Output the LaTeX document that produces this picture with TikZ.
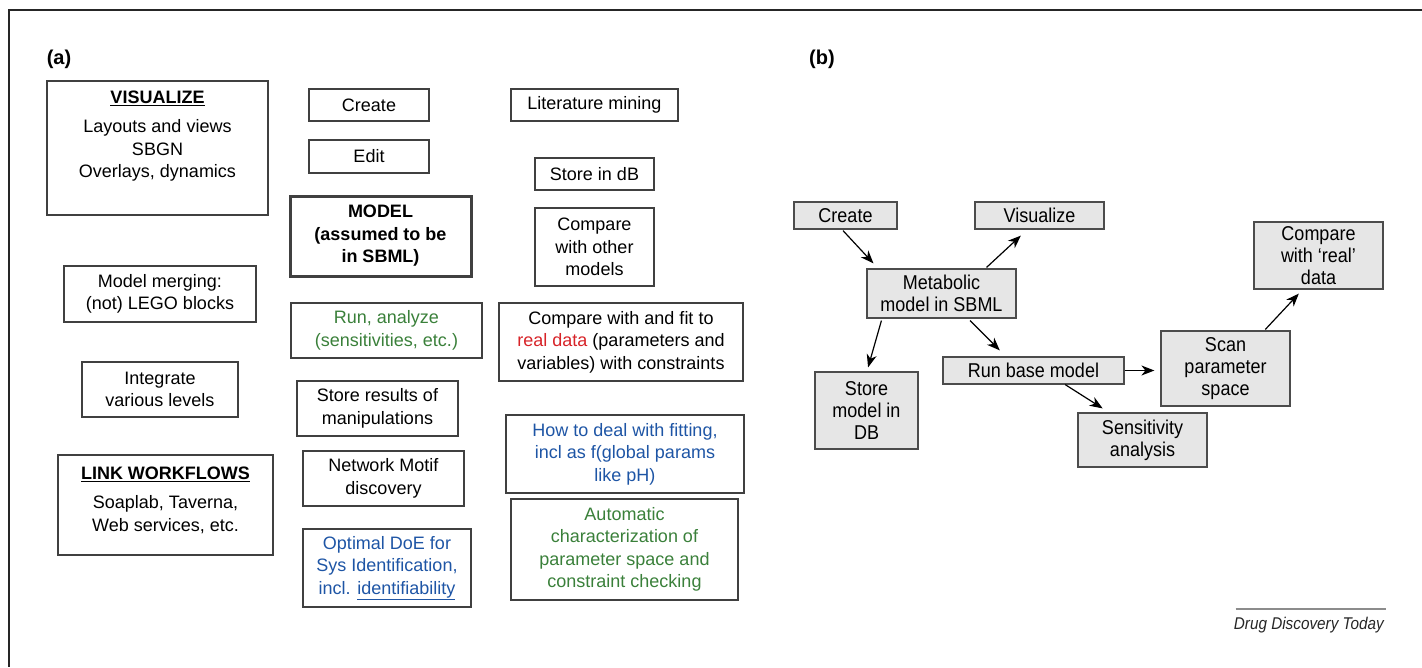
\documentclass[tikz,border=0pt]{standalone}
\usepackage{fontspec}
\setmainfont{Liberation Sans}
\newfontfamily\narrowfont[FakeStretch=0.9]{Liberation Sans}
\usetikzlibrary{arrows.meta,calc}
\definecolor{tgreen}{RGB}{58,128,58}
\definecolor{tblue}{RGB}{30,85,165}
\definecolor{tred}{RGB}{215,35,40}
\definecolor{bfill}{RGB}{230,230,230}
\newcommand\afont{\fontsize{18}{22.5}\selectfont}
\newcommand\bfont{\narrowfont\fontsize{20}{22}\selectfont}
\begin{document}
\begin{tikzpicture}[x=1pt,y=-1pt,
  sz/.style 2 args={minimum width=#1pt, minimum height=#2pt},
  abox/.style={draw=black!75, line width=1.3pt, inner sep=0pt, align=center, font=\afont},
  atxt/.style={inner sep=0pt, align=center, font=\afont},
  bbox/.style={draw=black!70, fill=bfill, line width=1.2pt, inner sep=0pt, align=center, font=\bfont},
  arr/.style={line width=1.2pt, -{Stealth[length=13pt,width=10pt,inset=4pt]}},
  plabel/.style={inner sep=0pt, font=\fontsize{20}{24}\selectfont\bfseries}]
\useasboundingbox (0,0) rectangle (1422,667);
% frame
\draw[line width=1.5pt, black!85] (1422,10) -- (9,10) -- (9,667);

% panel labels
\node[plabel] (la) at (59,59) {(a)};
\node[plabel] (lb) at (822,59) {(b)};

% ---------- panel (a) ----------
\node[abox, sz={221}{134}] (vis) at (157.5,148) {};
\node[atxt] (vistxt) at (157.5,136) {\textbf{\underline{VISUALIZE}}\\[7pt]Layouts and views\\SBGN\\Overlays, dynamics};
\node[abox, sz={120}{32}] (acreate) at (369,105) {Create};
\node[abox, sz={120}{33}] (edit) at (369,156.5) {Edit};
\node[abox, sz={181}{80}, line width=3pt, font=\afont\bfseries] (model) at (380.5,236) {MODEL\\(assumed to be\\in SBML)};
\node[abox, sz={192}{56}] (merge) at (160,294) {Model merging:\\(not) LEGO blocks};
\node[abox, sz={191}{55}, text=tgreen] (run) at (386.5,330.5) {Run, analyze\\(sensitivities, etc.)};
\node[abox, sz={167}{32}] (lit) at (594.5,105) {Literature mining};
\node[abox, sz={119}{32}] (storedb) at (594.5,174) {Store in dB};
\node[abox, sz={119}{78}] (cmpother) at (594.5,247) {Compare\\with other\\models};
\node[abox, sz={244}{78}] (cmpfit) at (621,342) {Compare with and fit to\\\textcolor{tred}{real data} (parameters and\\variables) with constraints};
\node[abox, sz={156}{55}] (integ) at (160,389.5) {Integrate\\various levels};
\node[abox, sz={161}{55}] (storeres) at (377.5,408.5) {Store results of\\manipulations};
\node[abox, sz={161}{55}] (motif) at (383.5,478.5) {Network Motif\\discovery};
\node[abox, sz={168}{78}, text=tblue] (doe) at (387,568) {Optimal DoE for\\Sys Identification,\\incl. \underline{identifiability}};
\node[abox, sz={215}{100}] (link) at (165.5,505) {};
\node[atxt] (linktxt) at (165.5,500) {\textbf{\underline{LINK WORKFLOWS}}\\[7pt]Soaplab, Taverna,\\Web services, etc.};
\node[abox, sz={238}{78}, text=tblue] (howto) at (625,454) {How to deal with fitting,\\incl as f(global params\\like pH)};
\node[abox, sz={227}{101}, text=tgreen] (auto) at (624.5,549.5) {Automatic\\characterization of\\parameter space and\\constraint checking};

% ---------- panel (b) ----------
\node[bbox, sz={103}{27}] (bcreate) at (845.5,215.5) {Create};
\node[bbox, sz={129}{27}] (bvis) at (1039.5,215.5) {Visualize};
\node[bbox, sz={149}{49}] (meta) at (941.5,293.5) {Metabolic\\model in SBML};
\node[bbox, sz={103}{77}] (bstore) at (866.5,410.5) {Store\\model in\\DB};
\node[bbox, sz={181}{27}] (brun) at (1033.5,370.5) {Run base model};
\node[bbox, sz={129}{75}] (bscan) at (1225.5,368.5) {Scan\\parameter\\space};
\node[bbox, sz={129}{54}] (bsens) at (1142.5,440) {Sensitivity\\analysis};
\node[bbox, sz={129}{67}] (bcmp) at (1318.5,255.5) {Compare\\with ‘real’\\data};

\draw[arr] ($(bcreate.south west)!0.476!(bcreate.south east)+(0,1)$) -- ($(meta.north west)!0.047!(meta.north east)+(0,-5)$);
\draw[arr] ($(meta.north west)!0.8!(meta.north east)+(0,-1)$) -- ($(bvis.south west)!0.357!(bvis.south east)+(0,6)$);
\draw[arr] ($(meta.south west)!0.1!(meta.south east)+(0,2)$) -- ($(bstore.north west)!0.515!(bstore.north east)+(0,-4)$);
\draw[arr] ($(meta.south west)!0.69!(meta.south east)+(0,2)$) -- ($(brun.north west)!0.315!(brun.north east)+(0,-6)$);
\draw[arr, shorten >=6pt] (brun.east) -- (brun.east -| bscan.west);
\draw[arr] ($(brun.south west)!0.674!(brun.south east)$) -- ($(bsens.north west)!0.194!(bsens.north east)+(0,-4)$);
\draw[arr] ($(bscan.north west)!0.806!(bscan.north east)+(0,-1)$) -- ($(bcmp.south west)!0.349!(bcmp.south east)+(0,4)$);

% credit
\node[inner sep=0pt, anchor=east, font=\narrowfont\fontsize{17}{20}\selectfont\itshape, text=black!85] (ddt) at (1384,625) {Drug Discovery Today};
\draw[line width=1.5pt, black!45] ($(ddt.north west)+(2,-8)$) -- ($(ddt.north east)+(2,-8)$);
\end{tikzpicture}
\end{document}
